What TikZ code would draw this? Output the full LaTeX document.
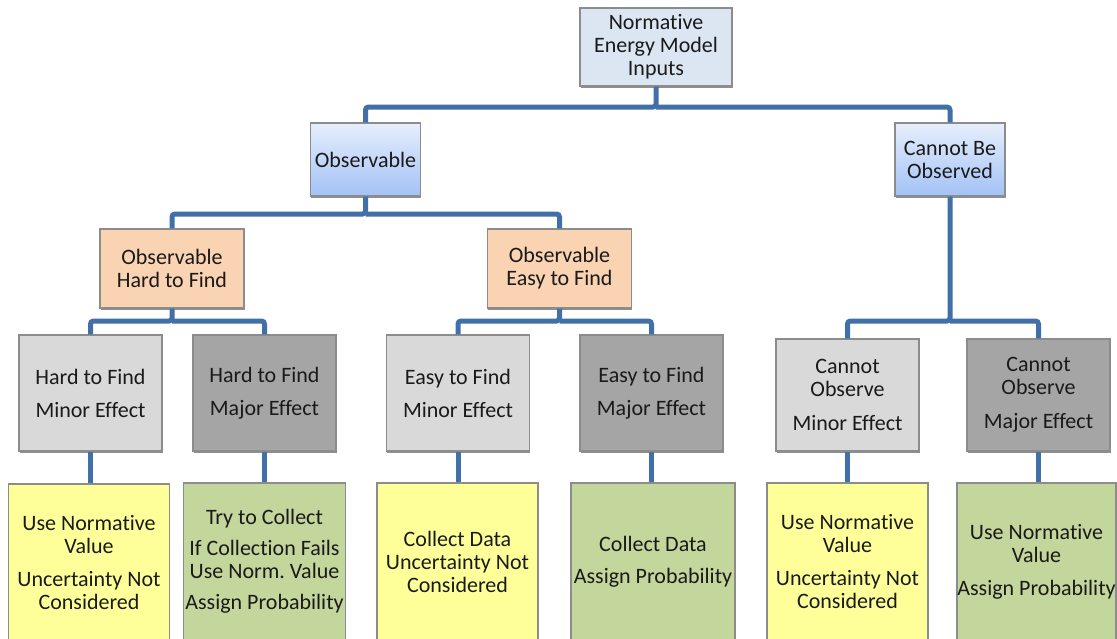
\documentclass[tikz,border=0pt]{standalone}
\usepackage{fontspec}
\setmainfont[Ligatures=NoCommon]{Carlito}
\usetikzlibrary{shadows}
\definecolor{conncol}{HTML}{416FA8}
\definecolor{bordercol}{HTML}{8C8C8C}
\definecolor{textcol}{HTML}{1A1A1A}
\definecolor{rootfill}{HTML}{DCE6F2}
\definecolor{bluetop}{HTML}{E6EEFC}
\definecolor{bluebot}{HTML}{A3C2F6}
\definecolor{peach}{HTML}{FAD3B2}
\definecolor{lgray}{HTML}{D9D9D9}
\definecolor{dgray}{HTML}{A5A5A5}
\definecolor{yel}{HTML}{FFFF99}
\definecolor{grn}{HTML}{C3D69B}
\frenchspacing
\begin{document}
\begin{tikzpicture}[x=1pt,y=-1pt,
  box/.style={draw=bordercol, line width=1.2pt, align=center, inner sep=0pt,
    text=textcol, font=\fontsize{22}{23}\selectfont,
    drop shadow={shadow xshift=0.6pt, shadow yshift=-2.4pt, fill=black!55, opacity=0.8}},
  rootbox/.style={box, fill=rootfill, minimum width=152pt, minimum height=78pt, drop shadow={opacity=0}},
  bluebox/.style={box, top color=bluetop, bottom color=bluebot, minimum width=110pt, minimum height=73pt},
  peachbox/.style={box, fill=peach, minimum width=144pt, minimum height=79pt},
  lbox/.style={box, fill=lgray, minimum width=143pt, minimum height=116pt},
  dbox/.style={box, fill=dgray, minimum width=143pt, minimum height=116pt},
  ybox/.style={box, fill=yel, minimum width=161pt, minimum height=157pt, drop shadow={opacity=0}},
  gbox/.style={box, fill=grn, minimum width=162pt, minimum height=157pt, drop shadow={opacity=0}},
  conn/.style={draw=conncol, line width=5pt, rounded corners=3pt},
]
\useasboundingbox (0,0) rectangle (1117,638);
\clip (0,0) rectangle (1117,638);
\fill[white] (0,0) rectangle (1117,638);

% level 0
\node[rootbox] (root) at (656,47) {Normative\\Energy Model\\Inputs};
% level 1
\node[bluebox] (obs) at (365.5,159.5) {Observable};
\node[bluebox] (cbo) at (950,159.5) {Cannot Be\\Observed};
% level 2
\node[peachbox] (ohf) at (172,268.5) {Observable\\Hard to Find};
\node[peachbox] (oef) at (559.5,268.5) {Observable\\Easy to Find};
% level 3
\node[lbox] (hmin) at (90.5,393) {Hard to Find\\[10pt]Minor Effect};
\node[dbox] (hmaj) at (264.5,393) {Hard to Find\\[10pt]Major Effect};
\node[lbox] (emin) at (458,393) {Easy to Find\\[10pt]Minor Effect};
\node[dbox] (emaj) at (651.5,393) {Easy to Find\\[10pt]Major Effect};
\node[lbox, minimum height=112pt] (cmin) at (847.5,395) {Cannot\\Observe\\[11pt]Minor Effect};
\node[dbox, minimum height=112pt] (cmaj) at (1038.5,395) {Cannot\\Observe\\[11pt]Major Effect};
% level 4
\node[ybox] (y1) at (89,562.5) {Use Normative\\Value\\[10pt]Uncertainty Not\\Considered};
\node[gbox] (g1) at (264.5,561.5) {Try to Collect\\[8pt]If Collection Fails\\Use Norm. Value\\[8pt]Assign Probability};
\node[ybox] (y2) at (457.5,561.5) {Collect Data\\Uncertainty Not\\Considered};
\node[gbox, minimum width=164pt] (g2) at (653,561.5) {Collect Data\\[9pt]Assign Probability};
\node[ybox] (y3) at (847.5,561.5) {Use Normative\\Value\\[10pt]Uncertainty Not\\Considered};
\node[gbox, minimum width=159pt] (g3) at (1036.5,561.5) {Use Normative\\Value\\[10pt]Assign Probability};

% bus levels
\coordinate (bus1) at (0,107);
\coordinate (bus2) at (0,214);
\coordinate (bus3) at (0,321);

% connectors
\draw[conn] (root.south) -- (root.south |- bus1) -| (obs.north);
\draw[conn] (root.south |- bus1) -| (cbo.north);
\draw[conn] (obs.south) -- (obs.south |- bus2) -| (ohf.north);
\draw[conn] (obs.south |- bus2) -| (oef.north);
\draw[conn] (ohf.south) -- (ohf.south |- bus3) -| (hmin.north);
\draw[conn] (ohf.south |- bus3) -| (hmaj.north);
\draw[conn] (oef.south) -- (oef.south |- bus3) -| (emin.north);
\draw[conn] (oef.south |- bus3) -| (emaj.north);
\draw[conn] (cbo.south) -- (cbo.south |- bus3) -| (cmin.north);
\draw[conn] (cbo.south |- bus3) -| (cmaj.north);
\draw[conn] (hmin.south) -- (hmin.south |- y1.north);
\draw[conn] (hmaj.south) -- (hmaj.south |- g1.north);
\draw[conn] (emin.south) -- (emin.south |- y2.north);
\draw[conn] (emaj.south) -- (emaj.south |- g2.north);
\draw[conn] (cmin.south) -- (cmin.south |- y3.north);
\draw[conn] (cmaj.south) -- (cmaj.south |- g3.north);
\end{tikzpicture}
\end{document}
